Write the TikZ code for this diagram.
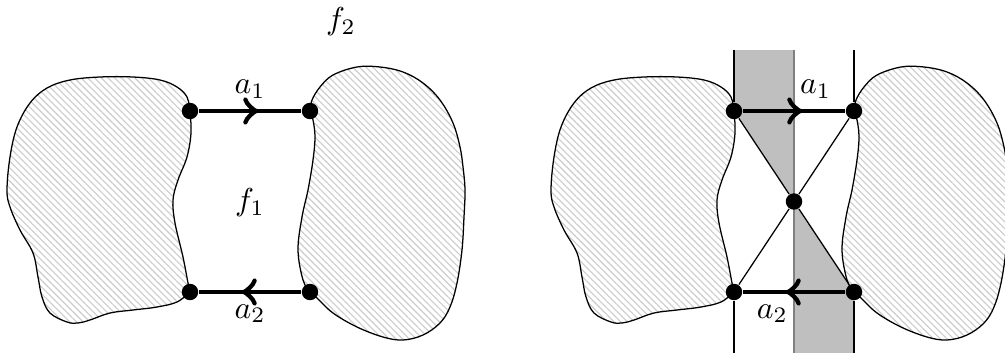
\documentclass[tikz,border=0pt]{standalone}
\usepackage{amsmath,amssymb}
\usetikzlibrary{arrows,decorations.markings,patterns.meta}
\tikzset{
  dot/.style={circle,fill=black,inner sep=0pt,minimum size=5.2pt},
  blob/.style={draw=black,preaction={fill=white},
    pattern={Lines[angle=-45,distance=1.5pt,line width=0.35pt]},pattern color=gray!40},
  flow/.style={line width=1.2pt,
    decoration={markings,mark=at position 0.58 with {\arrow[scale=1.4]{>}}},postaction={decorate}},
  band/.style={fill=gray!50},
}

\begin{document}
\begin{tikzpicture}[x=0.0111cm,y=-0.0111cm]
        \useasboundingbox (0,0) rectangle (1005,353);
        % shaded strips (right picture)
        \fill[band] (734,50)--(794,50)--(794,201.5)--(734,111)--cycle;
        \fill[band] (794,201.5)--(854,292)--(854,360)--(794,360)--cycle;
        % the two regions, twice
        \foreach \dx in {0,544}{
        \begin{scope}[shift={(\dx,0)}]
        \draw[blob] plot[smooth,tension=0.6] coordinates {(190,111) (187,97) (177,87) (160,80) (133,77) (100,77) (70,80) (47,88) (30,103) (17,127) (10,157) (7,190) (10,207) (20,230) (33,253) (38,277) (42,297) (50,313) (67,322) (78,323) (90,320) (110,313) (133,310) (157,307) (177,302) (190,292)}
            -- plot[smooth,tension=0.6] coordinates {(190,292) (188,283) (183,257) (175,223) (173,200) (178,180) (187,157) (191,133) (190,111)} -- cycle;
        \draw[blob] plot[smooth,tension=0.6] coordinates {(310,111) (312,100) (320,87) (333,75) (357,67) (380,67) (403,72) (423,83) (440,100) (453,123) (460,147) (463,167) (465,190) (464,217) (462,250) (457,283) (450,307) (440,323) (423,335) (403,340) (383,337) (357,327) (333,313) (317,298) (310,292)}
            -- plot[smooth,tension=0.6] coordinates {(310,292) (303,280) (298,250) (302,217) (308,190) (313,160) (315,137) (313,120) (310,111)} -- cycle;
        \end{scope}
        }
        \coordinate (t1) at (734,50);
        \coordinate (t2) at (794,50);
        \coordinate (t3) at (854,50);
        \coordinate (b1) at (734,360);
        \coordinate (b2) at (794,360);
        \coordinate (b3) at (854,360);
        \draw[gray] (t2)--(b2);
        % vertices
        \node[dot] (p1) at (190,111) {};
        \node[dot] (p2) at (310,111) {};
        \node[dot] (p3) at (310,292) {};
        \node[dot] (p4) at (190,292) {};
        \node[dot] (q1) at (734,111) {};
        \node[dot] (q2) at (854,111) {};
        \node[dot] (q3) at (854,292) {};
        \node[dot] (q4) at (734,292) {};
        \node[dot] (qc) at (794,201.5) {};
        % left picture
        \draw[flow] (p1)-- node[above] {$a_1$} (p2);
        \draw[flow] (p3)-- node[below] {$a_2$} (p4);
        \node (f1) at (250,203) {$f_1$};
        \node (f2) at (341,22) {$f_2$};
        % right picture
        \draw (t1)--(q1);
        \draw (q4)--(b1);
        \draw (t3)--(q2);
        \draw (q3)--(b3);
        \draw (q1)--(qc);
        \draw (qc)--(q3);
        \draw (q2)--(qc);
        \draw (qc)--(q4);
        \draw[flow] (q1)-- node[above right,xshift=-2pt] {$a_1$} (q2);
        \draw[flow] (q3)-- node[below left,xshift=2pt] {$a_2$} (q4);
    \end{tikzpicture}
\end{document}
